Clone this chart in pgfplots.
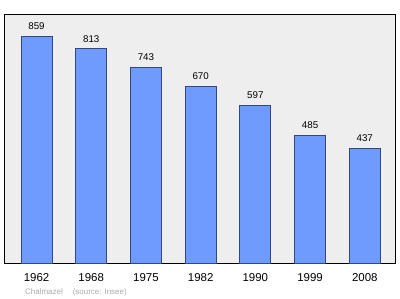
\documentclass[border=0pt]{standalone}
\usepackage{pgfplots}
\pgfplotsset{compat=1.18}
\usepackage{fontspec}
\setmainfont{Liberation Sans}
\definecolor{barfill}{HTML}{6F9BFF}
\definecolor{barline}{HTML}{34477A}
\definecolor{bg}{HTML}{EEEEEE}
\definecolor{foot}{HTML}{AAAAAA}
\begin{document}
\begin{tikzpicture}[x=1bp,y=1bp]
\path[use as bounding box] (0,0) rectangle (400,299);
\begin{axis}[
  at={(4.5bp,35.7bp)}, anchor=south west,
  scale only axis, width=391.2bp, height=249.3bp,
  xmin=-0.585, xmax=6.565, ymin=0, ymax=945,
  axis background/.style={fill=bg},
  axis line style={black, line width=0.8bp},
  xtick={0,1,2,3,4,5,6},
  xticklabels={1962,1968,1975,1982,1990,1999,2008},
  ytick=\empty,
  major tick length=0pt,
  xticklabel style={font=\fontsize{11.5}{12}\selectfont, yshift=-6.5bp},
  /pgf/number format/assume math mode=true,
  ybar, bar width=31bp,
  nodes near coords,
  every node near coord/.append style={font=\fontsize{9.8}{10}\selectfont, yshift=3bp, /pgf/number format/fixed},
]
\addplot[fill=barfill, draw=barline, line width=0.8bp] coordinates {
(0,859) (1,813) (2,743) (3,670) (4,597) (5,485) (6,437)};
\end{axis}
\node[anchor=base west, font=\fontsize{8}{9}\selectfont, text=foot, inner sep=0pt] at (25,5) {Chalmazel\hspace{10bp}(source: Insee)};
\end{tikzpicture}
\end{document}
